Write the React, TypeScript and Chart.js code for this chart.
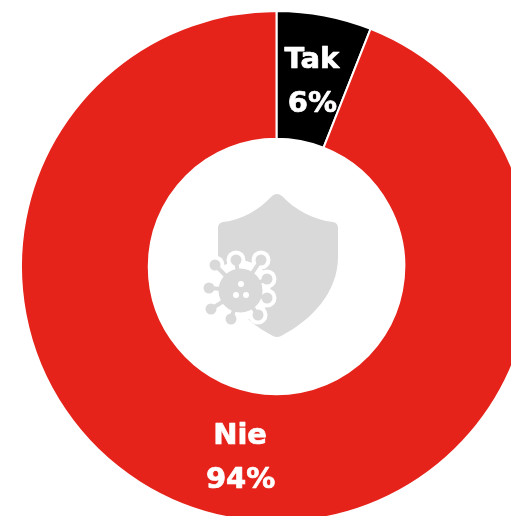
import React, { useEffect, useRef } from "react";
import { Chart, registerables } from "chart.js";

Chart.register(...registerables);

const categories = ["Tak", "Nie"];
const values = [6, 94];
const percentLabels = ["6%", "94%"];
const colors = ["#000000", "#e5231b"];

const SHIELD =
  "M-5 -71 Q0 -75 5 -71 C18 -57 37 -47 56 -45 Q61 -44 61 -39 L61 -10 C61 25 35 53 4 69 Q0 71 -4 69 C-35 53 -59 25 -59 -10 L-59 -39 Q-59 -44 -54 -45 C-35 -47 -18 -57 -5 -71 Z";

const VIRUS_CENTER = [-36.5, 23.5];
const VIRUS_KNOBS = [
  [-62, -2], [-41, -7], [-16, -7], [-10, 12], [-10, 31], [-19, 48], [-46, 52], [-66, 42], [-68, 21],
];
const VIRUS_HOLES = [[-36, 17], [-41, 28], [-31, 28]];

const iconPlugin = {
  id: "centerIcon",
  afterDatasetsDraw(chart: any) {
    const arc = chart.getDatasetMeta(0).data[0];
    const ctx = chart.ctx;
    ctx.save();
    ctx.translate(arc.x + 0.5, arc.y + 0.5);
    ctx.fillStyle = "#d9d9d9";
    ctx.fill(new Path2D(SHIELD));

    const drawVirus = (color: string, grow: number, body: number) => {
      ctx.strokeStyle = color;
      ctx.fillStyle = color;
      ctx.lineCap = "round";
      ctx.lineWidth = 4 + grow * 2;
      for (const [kx, ky] of VIRUS_KNOBS) {
        ctx.beginPath();
        ctx.moveTo(VIRUS_CENTER[0], VIRUS_CENTER[1]);
        ctx.lineTo(kx, ky);
        ctx.stroke();
        ctx.beginPath();
        ctx.arc(kx, ky, 5.5 + grow, 0, Math.PI * 2);
        ctx.fill();
      }
      ctx.beginPath();
      ctx.arc(VIRUS_CENTER[0], VIRUS_CENTER[1], body, 0, Math.PI * 2);
      ctx.fill();
    };
    drawVirus("#ffffff", 4, 30);
    drawVirus("#d9d9d9", 0, 22);

    ctx.fillStyle = "#ffffff";
    for (const [hx, hy] of VIRUS_HOLES) {
      ctx.beginPath();
      ctx.arc(hx, hy, 3, 0, Math.PI * 2);
      ctx.fill();
    }
    ctx.restore();
  },
};

const labelPlugin = {
  id: "sliceLabels",
  afterDraw(chart: any) {
    const ctx = chart.ctx;
    chart.getDatasetMeta(0).data.forEach((arc: any, i: number) => {
      const p = arc.tooltipPosition();
      ctx.save();
      ctx.fillStyle = "#ffffff";
      ctx.strokeStyle = "#ffffff";
      ctx.lineWidth = 0.7;
      ctx.lineJoin = "round";
      ctx.font = "700 29px 'DejaVu Sans', sans-serif";
      ctx.textAlign = "center";
      ctx.textBaseline = "middle";
      ctx.fillText(categories[i], p.x - 0.5, p.y - 18);
      ctx.strokeText(categories[i], p.x - 0.5, p.y - 18);
      ctx.fillText(percentLabels[i], p.x, p.y + 26);
      ctx.strokeText(percentLabels[i], p.x, p.y + 26);
      ctx.restore();
    });
  },
};

export default function App() {
  const ref = useRef<HTMLCanvasElement>(null);
  useEffect(() => {
    const chart = new Chart(ref.current!, {
      type: "doughnut",
      data: {
        labels: categories,
        datasets: [
          {
            data: values,
            backgroundColor: colors,
            borderColor: "#ffffff",
            borderWidth: 2,
          },
        ],
      },
      options: {
        responsive: false,
        animation: false,
        cutout: "50%",
        plugins: { legend: { display: false }, tooltip: { enabled: false } },
      },
      plugins: [iconPlugin, labelPlugin],
    });
    return () => chart.destroy();
  }, []);
  return (
    <div style={{ position: "fixed", left: 0, top: 0, width: 511, height: 516, overflow: "hidden", background: "#fff" }}>
      <canvas ref={ref} width={513} height={513} style={{ position: "absolute", left: 20, top: 10, display: "block" }} />
    </div>
  );
}
